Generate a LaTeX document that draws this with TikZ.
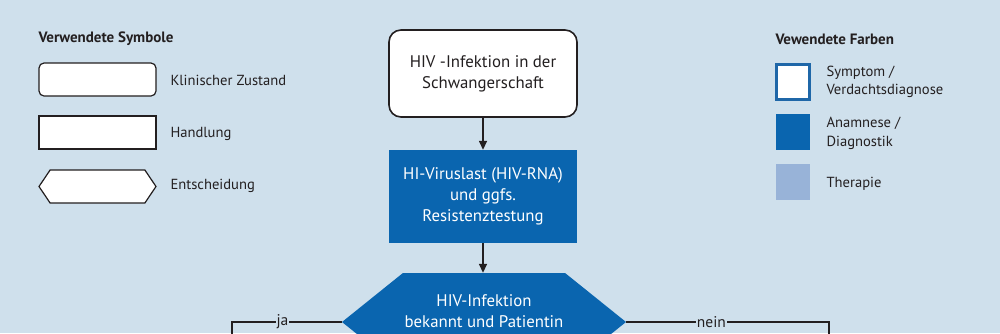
\documentclass[tikz,border=0pt]{standalone}
\usepackage{fontspec}
\setmainfont{PT Sans}
\usetikzlibrary{shapes.symbols,arrows.meta}
\definecolor{bg}{HTML}{CFE0EC}
\definecolor{dblue}{HTML}{0A65AF}
\definecolor{lblue}{HTML}{98B3D8}
\definecolor{ink}{HTML}{231F20}
\definecolor{bord}{HTML}{1F67A8}
\begin{document}
\begin{tikzpicture}[x=1pt,y=-1pt,
  every node/.style={text=ink},
  lgtext/.style={anchor=west,font=\fontsize{14.6}{18}\selectfont,align=left},
  lgtitle/.style={anchor=west,font=\fontsize{15}{18}\selectfont\bfseries},
  mainfont/.style={font=\fontsize{16.8}{21}\selectfont,align=center},
  state/.style={draw=ink,fill=white,line width=1.6pt,rounded corners=12pt,minimum width=188pt,minimum height=87pt,mainfont},
  action/.style={fill=dblue,minimum width=188pt,minimum height=93pt,text=white,mainfont},
  decision/.style={signal,signal to=west and east,fill=dblue,inner sep=0pt},
  arr/.style={draw=ink,line width=1.5pt,-{Triangle[length=9pt,width=8pt]}},
  conn/.style={draw=ink,line width=1.5pt},
  lbl/.style={fill=bg,inner sep=1pt,font=\fontsize{15.5}{18}\selectfont}
]
\useasboundingbox (0,0) rectangle (1000,333);
\clip (0,0) rectangle (1000,333);
\fill[bg] (0,0) rectangle (1000,333);

% legend: symbols
\node[lgtitle] (lt1) at (35,39) {Verwendete Symbole};
\node[draw=ink,fill=white,line width=1.2pt,rounded corners=5pt,minimum width=117pt,minimum height=33pt] (ls1) at (97.5,79.5) {};
\node[lgtext] (lx1) at (167,80) {Klinischer Zustand};
\node[draw=ink,fill=white,line width=1.2pt,minimum width=117pt,minimum height=33pt] (ls2) at (97.5,132.5) {};
\node[lgtext] (lx2) at (167,134) {Handlung};
\node[signal,signal to=west and east,signal pointer angle=112,draw=ink,fill=white,line width=1.2pt,minimum width=117pt,minimum height=33pt,inner sep=0pt] (ls3) at (97.5,186.5) {};
\node[lgtext] (lx3) at (167,186) {Entscheidung};

% legend: colours
\node[lgtitle] (lt2) at (772,39) {Vewendete Farben};
\node[draw=bord,fill=white,line width=3pt,minimum width=33pt,minimum height=35pt] (lc1) at (792.5,81.5) {};
\node[lgtext,font=\fontsize{14.6}{18}\selectfont] (lc1t) at (823,82) {Symptom /\\Verdachtsdiagnose};
\node[fill=dblue,minimum width=34pt,minimum height=36pt] (lc2) at (793,132) {};
\node[lgtext,font=\fontsize{14.6}{19}\selectfont] (lc2t) at (823,133.5) {Anamnese /\\Diagnostik};
\node[fill=lblue,minimum width=34pt,minimum height=36pt] (lc3) at (793,182) {};
\node[lgtext] (lc3t) at (823,184) {Therapie};

% main flow
\node[state] (start) at (483,73.5) {HIV -Infektion in der\\Schwangerschaft};
\node[action] (viral) at (483,196.5) {HI-Viruslast (HIV-RNA)\\und ggfs.\\Resistenztestung};
\node[decision,signal pointer angle=77.6,minimum width=284pt,minimum height=98pt] (dec) at (484,322) {};
\node[mainfont,text=white] (dect) at (484,311.5) {HIV-Infektion\\bekannt und Patientin};

\draw[arr] (start) -- (viral);
\draw[arr] (viral) -- (viral.south |- dec.north);

\coordinate (jadown) at (232,345);
\coordinate (neindown) at (829,345);
\draw[conn] (dec.west) -| (jadown) node[lbl,pos=0.27] {ja};
\draw[conn] (dec.east) -| (neindown) node[lbl,pos=0.21] {nein};
\end{tikzpicture}
\end{document}
